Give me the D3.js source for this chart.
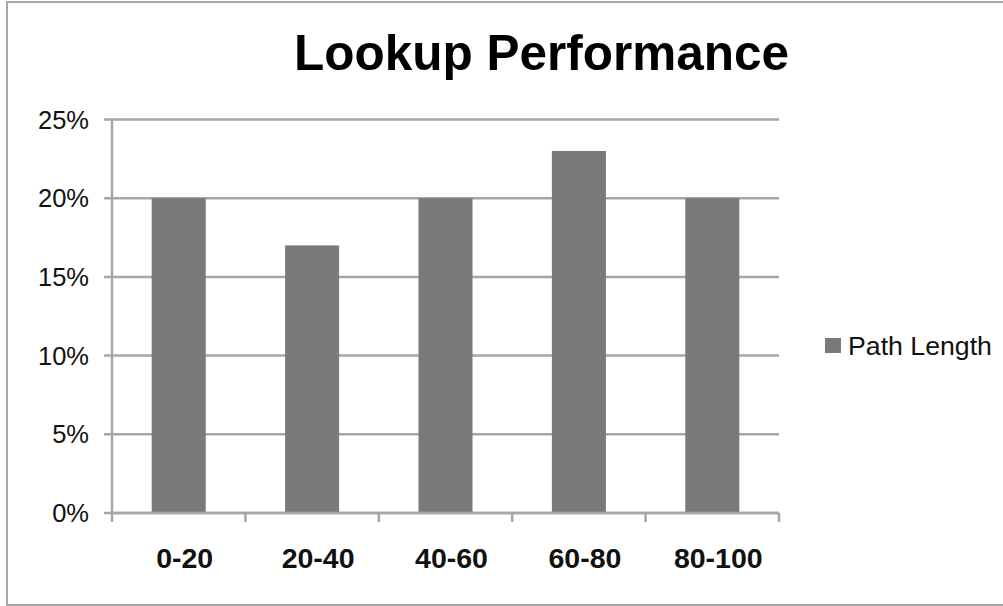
<!DOCTYPE html>
<html><head><meta charset="utf-8">
<script src="https://cdn.jsdelivr.net/npm/d3@7"></script>
<style>body{margin:0;background:#fff}svg{display:block}</style>
</head><body>
<script>
const categories = ["0-20","20-40","40-60","60-80","80-100"];
const pathLength = [0.20,0.17,0.20,0.23,0.20];
const yTicks = [0,0.05,0.10,0.15,0.20,0.25];
const seriesName = "Path Length";
const title = "Lookup Performance";

const W=1003,H=606;
const svg=d3.select("body").append("svg").attr("width",W).attr("height",H);
svg.append("rect").attr("x",7).attr("y",2).attr("width",W+10).attr("height",603)
  .attr("fill","#fff").attr("stroke","#a8a8a8").attr("stroke-width",2);

const L=112,R=779,T=119.5,B=513;
const x=d3.scaleBand().domain(categories).range([L,R]).paddingInner(0.595).paddingOuter(0.2975);
const y=d3.scaleLinear().domain([0,0.25]).range([B,T]);

const font="'Liberation Sans', Arial, sans-serif";
// gridlines
svg.append("g").selectAll("line").data(yTicks).join("line")
  .attr("x1",L-8).attr("x2",R).attr("y1",d=>y(d)).attr("y2",d=>y(d))
  .attr("stroke","#a6a6a6").attr("stroke-width",2.5);
// y labels
svg.append("g").selectAll("text").data(yTicks).join("text")
  .attr("x",89).attr("y",d=>y(d)+9).attr("text-anchor","end")
  .attr("font-family",font).attr("font-size",25.5).attr("fill","#111")
  .text(d3.format(".0%"));
// bars
svg.append("g").selectAll("rect").data(pathLength).join("rect")
  .attr("x",(d,i)=>x(categories[i])).attr("width",x.bandwidth())
  .attr("y",d=>y(d)).attr("height",d=>B-y(d)).attr("fill","#7a7a7a");
// y axis line
svg.append("line").attr("x1",L).attr("x2",L).attr("y1",T).attr("y2",B+1)
  .attr("stroke","#a6a6a6").attr("stroke-width",2.5);
// x axis
svg.append("line").attr("x1",L).attr("x2",R).attr("y1",B).attr("y2",B)
  .attr("stroke","#a6a6a6").attr("stroke-width",2.5);
const tickPos=d3.range(categories.length+1).map(i=>L+i*(R-L)/categories.length);
svg.append("g").selectAll("line").data(tickPos).join("line")
  .attr("x1",d=>d).attr("x2",d=>d).attr("y1",B).attr("y2",B+9)
  .attr("stroke","#a6a6a6").attr("stroke-width",2.5);
svg.append("g").selectAll("text").data(categories).join("text")
  .attr("x",d=>x(d)+x.bandwidth()/2+6).attr("y",568).attr("text-anchor","middle")
  .attr("font-family",font).attr("font-weight","bold").attr("font-size",28.5).attr("fill","#111")
  .text(d=>d);
// title
svg.append("text").attr("x",541.5).attr("y",70).attr("text-anchor","middle")
  .attr("font-family",font).attr("font-weight","bold").attr("font-size",49.5).attr("fill","#000")
  .text(title);
// legend
svg.append("rect").attr("x",825).attr("y",338).attr("width",16).attr("height",15).attr("fill","#7a7a7a");
svg.append("text").attr("x",848).attr("y",355).attr("font-family",font).attr("font-size",26.7)
  .attr("fill","#111").text(seriesName);
</script>
</body></html>
